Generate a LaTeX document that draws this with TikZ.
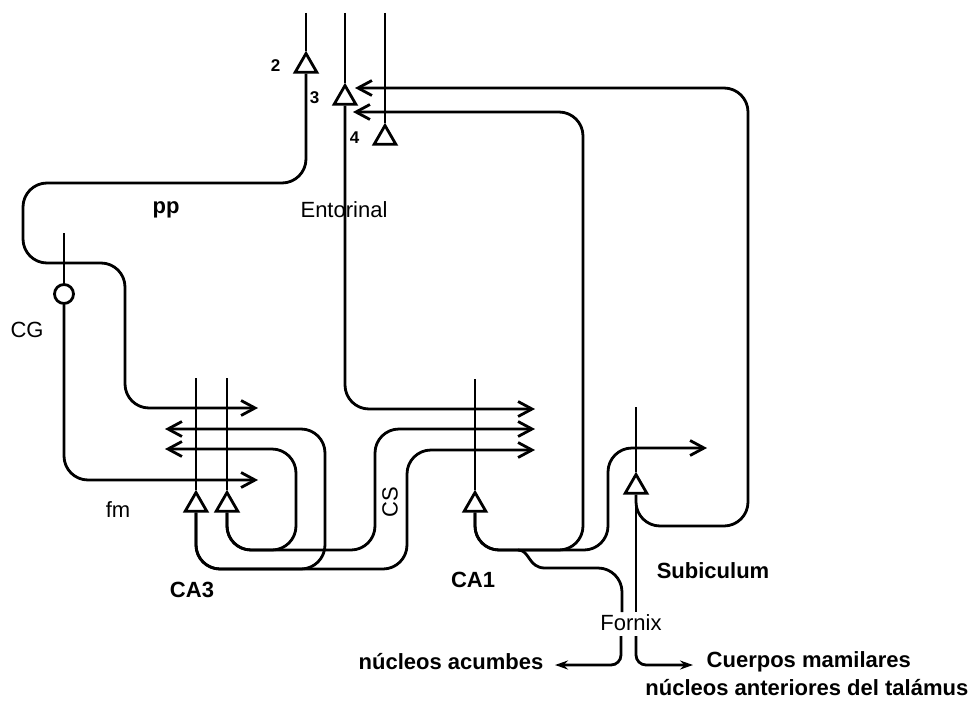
\documentclass[tikz,border=0pt]{standalone}
\usepackage{fontspec}
\setmainfont{Liberation Sans}
\usetikzlibrary{arrows.meta, shapes.geometric, positioning}

\begin{document}
\begin{tikzpicture}[x=1pt, y=-1pt, line width=2.8pt,
    >={Straight Barb[length=14pt,width=15pt]},
    every node/.style={font=\fontsize{22}{26}\selectfont},
    area/.style={font=\fontsize{22}{26}\selectfont\bfseries},
    tag/.style={font=\fontsize{17}{19}\selectfont\bfseries},
    cell/.style={regular polygon, regular polygon sides=3, draw, fill=white, inner sep=0pt, minimum size=25pt},
    soma/.style={circle, draw, fill=white, inner sep=0pt, minimum size=19pt},
    wire/.style={rounded corners=24pt}]
    \useasboundingbox (0,0) rectangle (976,701);

    % Entorhinal cells
    \foreach \n/\x/\y in {2/306/66, 3/345/98, 4/385/138} {
        \node[cell] (E\n) at (\x,\y) {};
        \coordinate (E\n top) at (\x,13);
        \draw (E\n top) -- (E\n.north);
        \node[tag, left=12pt of E\n] (L\n) {\n};
    }
    \draw[->, wire] (E2.south) |- (23,183) |- (125,263) |- (258,408);
    \draw[->, wire] (E3.south) |- (535,409);

    % Granule cell
    \node[soma] (CG) at (64,294) {};
    \coordinate (CG top) at (64,233);
    \draw (CG top) -- (CG.north);
    \draw[->, wire] (CG.south) |- (258,480);

    % CA3
    \foreach \n/\x in {a/196, b/227} {
        \node[cell] (CA3\n) at (\x,505) {};
        \coordinate (CA3\n top) at (\x,378);
        \draw (CA3\n top) -- (CA3\n.north);
    }
    \draw[->, wire] (CA3a.south) |- (325,569) |- (165,429);
    \draw[->, wire] (CA3a.south) |- (407,569) |- (535,450);
    \draw[->, wire] (CA3b.south) |- (296,550) |- (165,449);
    \draw[->, wire] (CA3b.south) |- (375,550) |- (535,429);

    % CA1
    \node[cell] (CA1) at (475,505) {};
    \coordinate (CA1 top) at (475,379);
    \draw (CA1 top) -- (CA1.north);
    \draw[->, wire] (CA1.south) |- (583,550) |- (353,112);
    \draw[->, wire] (CA1.south) |- (608,550) |- (707,448);

    % Subiculum
    \node[cell] (Sub) at (636,487) {};
    \coordinate (Sub top) at (636,407);
    \draw (Sub top) -- (Sub.north);
    \draw[->, wire] (Sub.south) |- (748,526) |- (355,88);

    % Fornix
    \node (Fx) at (631,623) {Fornix};
    \coordinate (fl) at (622,612);
    \coordinate (fr) at (636,612);
    \draw (Sub.south) -- (fr);
    \draw (518,550) .. controls (530,550) and (528,568) .. (545,568) [rounded corners=24pt] -| (fl);
    \draw[-{Stealth[length=13pt,width=9pt]}, rounded corners=10pt] (621,636) |- (555,665);
    \draw[-{Stealth[length=13pt,width=9pt]}, rounded corners=10pt] (636,636) |- (693,665);

    % Labels
    \node[area] (pp) at (166,210) {pp};
    \node (ent) at (344,210) {Entorinal};
    \node (cgl) at (27,330) {CG};
    \node (fm) at (118,510) {fm};
    \node[rotate=90] (cs) at (390,502) {CS};
    \node[area] (ca3l) at (192,590) {CA3};
    \node[area] (ca1l) at (473,580) {CA1};
    \node[area] (subl) at (713,571) {Subiculum};
    \node[area] (acb) at (451,662) {núcleos acumbes};
    \node[area, anchor=west] (mam) at (702,662) {Cuerpos mamilares};
    \node[area, anchor=east] (tal) at (973,688) {núcleos anteriores del talámus};
\end{tikzpicture}
\end{document}
